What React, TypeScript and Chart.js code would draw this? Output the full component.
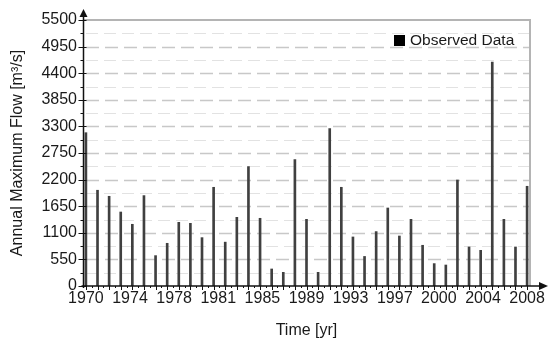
import React, { useEffect, useRef } from 'react';
import { Chart, registerables } from 'chart.js';

Chart.register(...registerables);

const years = [
  1970, 1971, 1972, 1973, 1974, 1975, 1976, 1977, 1978, 1979,
  1980, 1981, 1982, 1983, 1984, 1985, 1986, 1987, 1988, 1989,
  1990, 1991, 1992, 1993, 1994, 1995, 1996, 1997, 1998, 1999,
  2000, 2001, 2002, 2003, 2004, 2005, 2006, 2007, 2008,
];

const flows = [
  3170, 1980, 1855, 1530, 1276, 1869, 628, 883, 1317, 1296,
  1000, 2041, 907, 1420, 2469, 1400, 352, 283, 2614, 1379,
  283, 3255, 2041, 1014, 611, 1125, 1613, 1034, 1379, 842,
  463, 434, 2192, 807, 738, 4630, 1379, 807, 2062,
];

const xTickLabels = ['1970', '1974', '1978', '1981', '1985', '1989', '1993', '1997', '2000', '2004', '2008'];
const xTickPositions = [1970, 1973.8, 1977.6, 1981.4, 1985.2, 1989, 1992.8, 1996.6, 2000.4, 2004.2, 2008];
const yTicks = [0, 550, 1100, 1650, 2200, 2750, 3300, 3850, 4400, 4950, 5500];

const seriesLabel = 'Observed Data';
const xTitle = 'Time [yr]';
const yTitle = 'Annual Maximum Flow [m³/s]';

const FONT = '"Liberation Sans", Arial, sans-serif';
const TEXT = '#1a1a1a';

export default function App() {
  const ref = useRef<HTMLCanvasElement>(null);

  useEffect(() => {
    if (!ref.current) return;

    const deco = {
      id: 'deco',
      beforeDatasetsDraw(chart: any) {
        const { ctx, chartArea: a, scales } = chart;
        const y = scales.y;
        ctx.save();
        for (let i = 0; i < yTicks.length - 1; i++) {
          const mid = (yTicks[i] + yTicks[i + 1]) / 2;
          const py = Math.round(y.getPixelForValue(mid)) + 0.5;
          ctx.beginPath();
          ctx.setLineDash([12, 6]);
          ctx.strokeStyle = '#e2e2e2';
          ctx.lineWidth = 1;
          ctx.moveTo(a.left + 3, py);
          ctx.lineTo(a.right, py);
          ctx.stroke();
        }
        for (let i = 1; i < yTicks.length - 1; i++) {
          const py = Math.round(y.getPixelForValue(yTicks[i])) + 0.5;
          ctx.beginPath();
          ctx.setLineDash([13, 6]);
          ctx.strokeStyle = '#c8c8c8';
          ctx.lineWidth = 1.5;
          ctx.moveTo(a.left + 3, py);
          ctx.lineTo(a.right, py);
          ctx.stroke();
        }
        ctx.setLineDash([]);
        ctx.strokeStyle = '#b4b4b4';
        ctx.lineWidth = 2;
        ctx.beginPath();
        ctx.moveTo(a.left, a.top);
        ctx.lineTo(a.right, a.top);
        ctx.lineTo(a.right, a.bottom);
        ctx.stroke();
        ctx.restore();
      },
      afterDatasetsDraw(chart: any) {
        const { ctx, chartArea: a, scales } = chart;
        const x = scales.x;
        const y = scales.y;
        ctx.save();
        ctx.strokeStyle = '#111';
        ctx.fillStyle = '#111';
        ctx.lineWidth = 1.5;
        const ax = a.left + 0.5;
        const ay = a.bottom;
        ctx.beginPath();
        ctx.moveTo(ax, ay + 2);
        ctx.lineTo(ax, a.top - 6);
        ctx.stroke();
        ctx.beginPath();
        ctx.moveTo(ax, a.top - 11);
        ctx.lineTo(ax - 4, a.top - 3);
        ctx.lineTo(ax + 4, a.top - 3);
        ctx.closePath();
        ctx.fill();
        ctx.beginPath();
        ctx.moveTo(ax - 2, ay);
        ctx.lineTo(a.right + 10, ay);
        ctx.stroke();
        ctx.beginPath();
        ctx.moveTo(a.right + 18, ay);
        ctx.lineTo(a.right + 9, ay - 4);
        ctx.lineTo(a.right + 9, ay + 4);
        ctx.closePath();
        ctx.fill();
        ctx.lineWidth = 1;
        for (let i = 0; i < yTicks.length; i++) {
          const py = Math.round(y.getPixelForValue(yTicks[i])) + 0.5;
          ctx.beginPath();
          ctx.moveTo(ax - 5, py);
          ctx.lineTo(ax + 3, py);
          ctx.stroke();
          if (i < yTicks.length - 1) {
            const mid = (yTicks[i] + yTicks[i + 1]) / 2;
            const pm = Math.round(y.getPixelForValue(mid)) + 0.5;
            ctx.beginPath();
            ctx.moveTo(ax - 3, pm);
            ctx.lineTo(ax, pm);
            ctx.stroke();
          }
        }
        for (let i = 0; i < years.length; i++) {
          const px = Math.round(x.getPixelForValue(years[i])) + 0.5;
          ctx.beginPath();
          ctx.moveTo(px, ay);
          ctx.lineTo(px, ay + 4);
          ctx.stroke();
          if (i < years.length - 1) {
            const pm = Math.round(x.getPixelForValue((years[i] + years[i + 1]) / 2)) + 0.5;
            ctx.beginPath();
            ctx.moveTo(pm, ay);
            ctx.lineTo(pm, ay + 2);
            ctx.stroke();
          }
        }
        ctx.fillStyle = '#000';
        ctx.fillRect(394, 35, 11, 11);
        ctx.fillStyle = TEXT;
        ctx.font = `15.5px ${FONT}`;
        ctx.textBaseline = 'middle';
        ctx.textAlign = 'left';
        ctx.fillText(seriesLabel, 410, 41);
        ctx.restore();
      },
    };

    const chart = new Chart(ref.current, {
      type: 'bar',
      data: {
        datasets: [
          {
            label: seriesLabel,
            data: years.map((yr, i) => ({ x: yr, y: flows[i] })),
            backgroundColor: '#404040',
            borderWidth: 0,
            barThickness: 2,
          },
        ],
      },
      options: {
        animation: false,
        responsive: false,
        layout: { padding: { left: 0, right: 20, top: 20, bottom: 0 } },
        plugins: { legend: { display: false }, tooltip: { enabled: false } },
        scales: {
          x: {
            type: 'linear',
            min: 1969.75,
            max: 2008.25,
            offset: false,
            afterBuildTicks: (s: any) => {
              s.ticks = xTickPositions.map((v) => ({ value: v }));
            },
            afterFit: (s: any) => {
              s.height = 61;
            },
            grid: { display: false, drawTicks: false },
            border: { display: false },
            ticks: {
              autoSkip: false,
              maxRotation: 0,
              padding: 3,
              color: TEXT,
              font: { family: FONT, size: 16 },
              callback: (_v: any, i: number) => xTickLabels[i],
            },
            title: {
              display: true,
              text: xTitle,
              color: TEXT,
              font: { family: FONT, size: 16 },
              padding: { top: 0, bottom: 7 },
            },
          },
          y: {
            min: 0,
            max: 5500,
            afterBuildTicks: (s: any) => {
              s.ticks = yTicks.map((v) => ({ value: v }));
            },
            afterFit: (s: any) => {
              s.width = 83;
            },
            grid: { display: false, drawTicks: false },
            border: { display: false },
            ticks: {
              padding: 6,
              color: TEXT,
              font: { family: FONT, size: 16 },
              callback: (v: any) => String(v),
            },
            title: {
              display: true,
              text: yTitle,
              color: TEXT,
              font: { family: FONT, size: 16 },
              padding: { top: 8, bottom: 0 },
            },
          },
        },
      },
      plugins: [deco],
    } as any);

    return () => chart.destroy();
  }, []);

  return (
    <div style={{ position: 'fixed', left: 0, top: 0, width: 550, height: 347, background: '#fff' }}>
      <canvas ref={ref} width={550} height={347} />
    </div>
  );
}
